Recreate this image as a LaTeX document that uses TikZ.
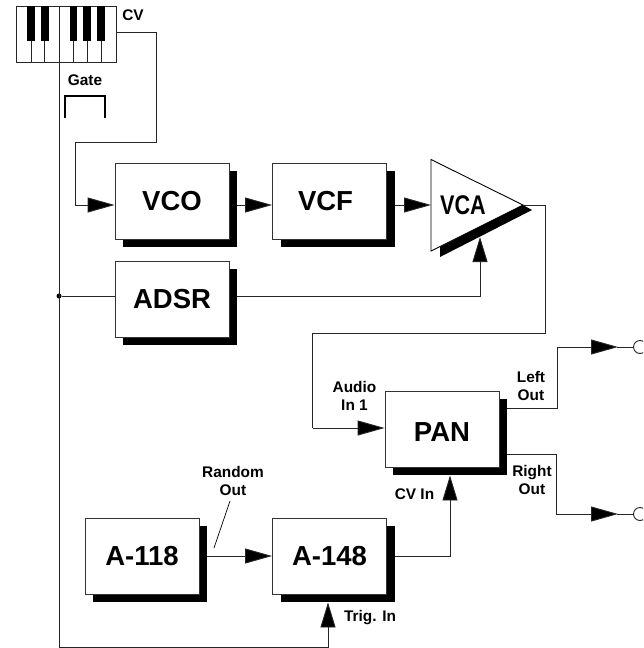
\documentclass[tikz,border=0pt]{standalone}
\usepackage{fontspec}
\setmainfont{Liberation Sans}
\usetikzlibrary{arrows.meta,shadows,calc}
\tikzset{
  wire/.style={draw=black!85,line width=0.9pt},
  arr/.style={wire,-{Triangle[length=27pt,width=15pt,fill=black]}},
  arrv/.style={wire,-{Triangle[length=25pt,width=15pt,fill=black]}},
  box/.style={draw=black!80,line width=0.9pt,fill=white,minimum width=114pt,minimum height=76pt,inner sep=0pt,
    font=\fontsize{27.5}{27.5}\selectfont\bfseries,
    general shadow={shadow xshift=8pt,shadow yshift=-8pt,fill=black}},
  small/.style={font=\fontsize{15.4}{18}\selectfont\bfseries,align=center,inner sep=0pt},
  jack/.style={circle,draw=black!85,line width=0.9pt,fill=white,minimum size=13pt,inner sep=0pt},
  dotn/.style={circle,fill=black,minimum size=5pt,inner sep=0pt},
  kbd/.style={draw=black!85,line width=0.9pt,fill=white,minimum width=100pt,minimum height=56pt,inner sep=0pt},
  keyline/.style={draw=black!85,line width=0.8pt},
  blackkey/.style={fill=black,draw=none}
}
\begin{document}
\begin{tikzpicture}[x=1pt,y=-1pt]
\useasboundingbox (0,0) rectangle (643,648);
\clip (0,0) rectangle (643,648);
% keyboard
\node[kbd] (kb) at (66,34) {};
\foreach \x in {31,44,73,87,101} \draw[keyline] (\x,41) -- (\x,62);
\foreach \x in {31,45,73.5,87,101} \fill[blackkey] (\x-3.7,6) rectangle (\x+3.7,41);
% boxes
\node[box] (vco) at (172,201) {\smash{\raisebox{-9pt}{VCO}}};
\node[box] (vcf) at (329.5,201) {\smash{\raisebox{-9pt}{VCF}}\kern8pt};
\node[box] (adsr) at (172,299) {ADSR};
\node[box] (pan) at (442,429) {\smash{\raisebox{-12.5pt}{PAN}}};
\node[box] (a118) at (142,556) {A-118};
\node[box] (a148) at (329.5,556) {A-148};
% VCA
\coordinate (vcatop) at (431,159.5);
\coordinate (vcatip) at (523,205);
\coordinate (vcabot) at (431,251);
\coordinate (vcain) at (431,205);
\coordinate (vcactl) at (480,237);
\draw[line width=0.9pt,fill=white] (vcatop) -- (vcatip) -- (vcabot) -- cycle;
\fill (vcatip) -- (532,210) -- (440,257) -- (440,247) -- cycle;
\node[font=\fontsize{27}{27}\selectfont\bfseries,inner sep=0pt,xscale=.8] (vca) at (463,205) {VCA};
% jacks and helper points
\node[jack] (lo) at (640,347) {};
\node[jack] (ro) at (640,514) {};
\node[dotn] (dot) at (59,296) {};
\coordinate (bend) at (59,647);
\coordinate (rndA) at (230,501);
\coordinate (rndB) at (214,548);
% connectors
\draw[wire] ([yshift=2pt]kb.east) -- (156,32) -- (156,142) -- (75,142) -- (75,205) coordinate (vcoin);
\draw[arr] (vcoin) -- ([yshift=-4pt]vco.west);
\draw[arr] ([xshift=8pt,yshift=-4pt]vco.east) -- ([yshift=-4pt]vcf.west);
\draw[arr] ([xshift=8pt,yshift=-4pt]vcf.east) -- (vcain);
\draw[wire] ([xshift=-7pt]kb.north) -- (bend);
\draw[arrv] (bend) -| ([xshift=-1.5pt,yshift=-8pt]a148.south);
\draw[wire] (dot) -- ([yshift=3pt]adsr.west);
\draw[arrv] ([xshift=8pt,yshift=3pt]adsr.east) -| (vcactl);
\draw[wire] (vcatip) -- (545,205) -- (545,333) -- (312.5,333) -- (312.5,428) coordinate (panin);
\draw[arr] (panin) -- ([yshift=1pt]pan.west);
\draw[wire] ([xshift=8pt,yshift=21pt]pan.east) -- (557,408) -- (557,347) coordinate (lb);
\draw[arr] (lb) -- (618,347);
\draw[wire] (617,347) -- (lo);
\draw[wire] ([xshift=8pt,yshift=-25pt]pan.east) -- (556,454) -- (556,514) coordinate (rb);
\draw[arr] (rb) -- (618,514);
\draw[wire] (617,514) -- (ro);
\draw[arr] ([xshift=8pt]a118.east) -- (a148.west);
\draw[arrv] ([xshift=8pt]a148.east) -| ([xshift=8pt,yshift=-8pt]pan.south);
\draw[line width=0.7pt] (rndA) -- (rndB);
% gate symbol
\draw[line width=2.4pt,line cap=butt] (65,118) -- (65,96) -- (105,96) -- (105,118);
% labels
\node[small] (lcv) at (133,15) {CV};
\node[small] (lgate) at (85,80) {Gate};
\node[small] (lrnd) at (233,480.5) {Random\\Out};
\node[small] (laud) at (354.5,396) {Audio\\In 1};
\node[small] (lleft) at (531,386) {Left\\Out};
\node[small] (lright) at (532,479.5) {Right\\Out};
\node[small] (lcvin) at (414.5,494.5) {CV In};
\node[small] (ltrig) at (370,617.5) {Trig. In};
\end{tikzpicture}
\end{document}
